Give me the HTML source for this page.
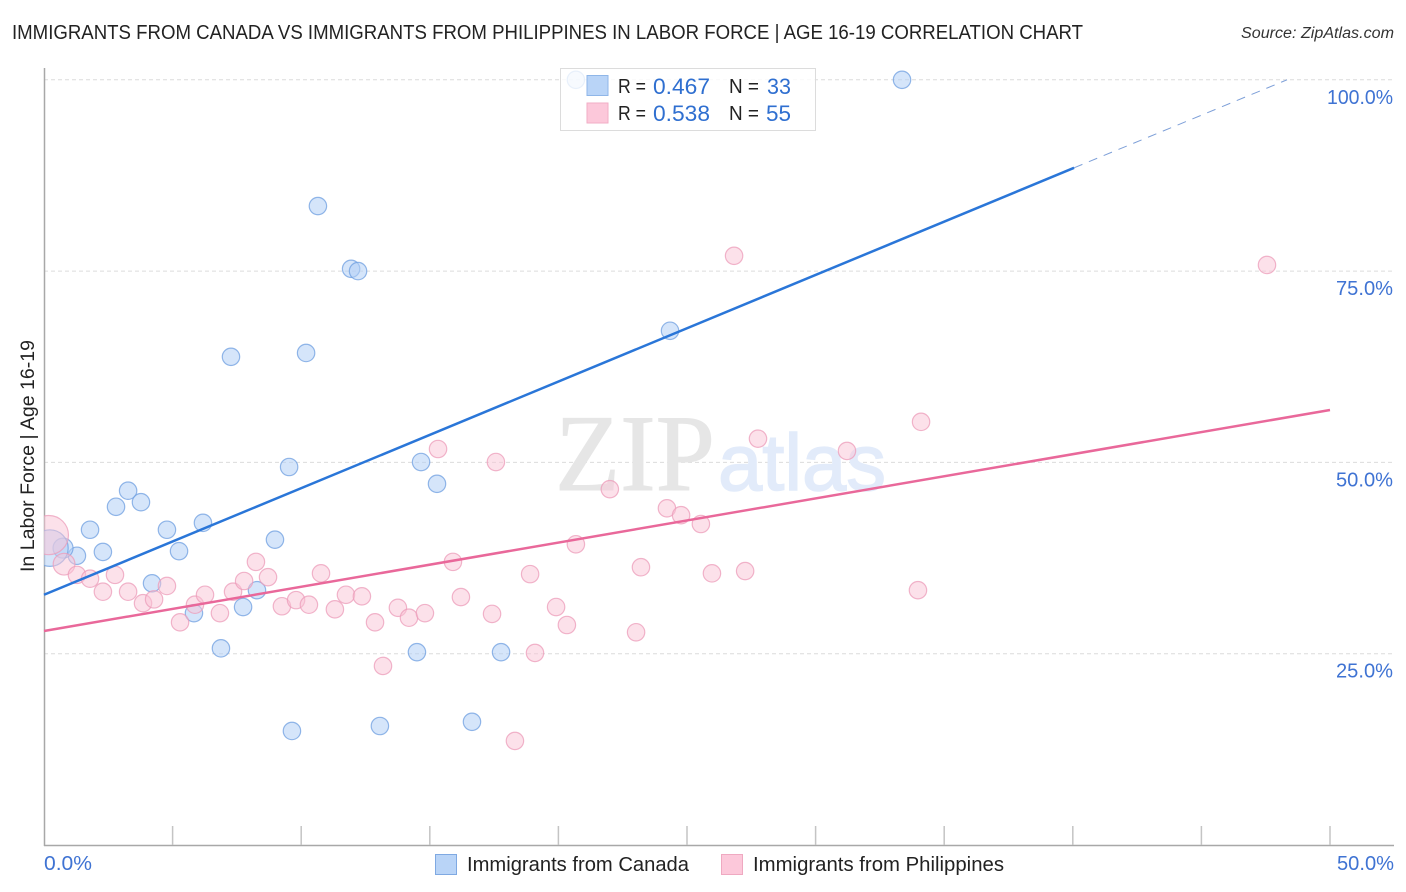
<!DOCTYPE html>
<html lang="en">
<head>
<meta charset="utf-8">
<title>Immigrants from Canada vs Immigrants from Philippines in Labor Force | Age 16-19 Correlation Chart</title>
<style>
html,body{margin:0;padding:0;background:#fff;width:1406px;height:892px;overflow:hidden}
svg{display:block;font-family:"Liberation Sans",sans-serif}
.tick{fill:#3f73d3;font-size:20px}
.leg{fill:#222;font-size:20px}
.val{fill:#2f6fd0;font-size:22px}
</style>
</head>
<body>
<svg id="chart" width="1406" height="892" viewBox="0 0 1406 892" xmlns="http://www.w3.org/2000/svg">
  <defs>
    <clipPath id="plot-clip"><rect x="44" y="60" width="1350" height="786"/></clipPath>
  </defs>
  <text x="12" y="39" font-size="20" fill="#222" textLength="1071" lengthAdjust="spacingAndGlyphs">IMMIGRANTS FROM CANADA VS IMMIGRANTS FROM PHILIPPINES IN LABOR FORCE | AGE 16-19 CORRELATION CHART</text>
  <text x="1241" y="38" font-size="15.5" font-style="italic" fill="#333" textLength="153" lengthAdjust="spacingAndGlyphs">Source: ZipAtlas.com</text>
  <text transform="translate(34,572) rotate(-90)" font-size="19.5" fill="#222" textLength="232" lengthAdjust="spacingAndGlyphs">In Labor Force | Age 16-19</text>

  <g id="grid"></g>
  <g>
    <text x="555" y="490" font-family="'Liberation Serif',serif" font-size="109" fill="#e6e6e6" stroke="#e6e6e6" stroke-width="1" textLength="160" lengthAdjust="spacingAndGlyphs">ZIP</text>
    <text x="718" y="490" font-size="80" fill="#e2ebfa" stroke="#e2ebfa" stroke-width="1.5" textLength="168" lengthAdjust="spacingAndGlyphs">atlas</text>
  </g>
  <g id="axes"></g>
  <g clip-path="url(#plot-clip)">
    <g id="points-canada"></g>
    <g id="points-philippines"></g>
  </g>
  <g id="trends"></g>

  <g>
    <rect x="560.5" y="68.5" width="255" height="62" fill="#fff" fill-opacity="0.8" stroke="#dcdcdc"/>
    <rect x="587" y="75.5" width="21" height="20" fill="#b9d4f7" stroke="#8fb6e8"/>
    <rect x="587" y="103" width="21" height="20" fill="#fcc8da" stroke="#f2aec6"/>
    <text x="618" y="93" font-size="20" fill="#222" textLength="28" lengthAdjust="spacingAndGlyphs">R =</text>
    <text class="val" x="653" y="94" textLength="57" lengthAdjust="spacingAndGlyphs">0.467</text>
    <text x="729" y="93" font-size="20" fill="#222" textLength="30" lengthAdjust="spacingAndGlyphs">N =</text>
    <text class="val" x="767" y="94" textLength="24" lengthAdjust="spacingAndGlyphs">33</text>
    <text x="618" y="120" font-size="20" fill="#222" textLength="28" lengthAdjust="spacingAndGlyphs">R =</text>
    <text class="val" x="653" y="121" textLength="57" lengthAdjust="spacingAndGlyphs">0.538</text>
    <text x="729" y="120" font-size="20" fill="#222" textLength="30" lengthAdjust="spacingAndGlyphs">N =</text>
    <text class="val" x="766" y="121" textLength="25" lengthAdjust="spacingAndGlyphs">55</text>
  </g>

  <g>
    <rect x="435.5" y="854.5" width="21" height="20" fill="#b9d4f7" stroke="#7fa9e2"/>
    <text class="leg" x="467" y="871" textLength="222" lengthAdjust="spacingAndGlyphs">Immigrants from Canada</text>
    <rect x="721.5" y="854.5" width="21" height="20" fill="#fcc8da" stroke="#efa9c1"/>
    <text class="leg" x="753" y="871" textLength="251" lengthAdjust="spacingAndGlyphs">Immigrants from Philippines</text>
  </g>
</svg>
<script>
const yTickValues = [25, 50, 75, 100];
const yTickLabels = ['25.0%', '50.0%', '75.0%', '100.0%'];
const xTickValues = [0, 5, 10, 15, 20, 25, 30, 35, 40, 45, 50];
const xEndValues = [0, 50];
const xEndLabels = ['0.0%', '50.0%'];

const canadaX = [20.68,33.36,10.65,11.94,12.21,10.19,7.27,24.34,9.53,14.66,15.28,3.27,3.77,2.80,1.79,4.78,6.18,8.98,5.25,2.29,1.28,0.74,0.23,4.2,8.28,5.83,7.74,6.88,14.5,17.77,9.64,13.06,16.64];
const canadaY = [100,100,83.5,75.3,75.0,64.3,63.8,67.2,49.4,50.05,47.2,46.3,44.8,44.2,41.2,41.2,42.1,39.9,38.4,38.3,37.8,38.8,38.8,34.2,33.3,30.3,31.1,25.7,25.2,25.2,14.9,15.55,16.1];
const canadaSize = [1,1,1,1,1,1,1,1,1,1,1,1,1,1,1,1,1,1,1,1,1,1.15,2.1,1,1,1,1,1,1,1,1,1,1];

const philippinesX = [26.83,47.55,34.1,31.22,27.76,15.32,17.57,22.0,24.22,24.77,25.54,20.68,15.9,23.21,18.9,25.97,27.26,33.98,0.19,0.78,1.28,1.79,2.76,2.29,3.27,3.85,4.28,4.78,5.29,5.87,6.26,6.84,7.35,7.78,8.24,8.71,9.25,9.8,10.3,10.77,11.31,11.74,12.36,12.87,13.76,14.19,14.81,16.21,17.42,19.91,20.33,23.02,19.09,13.18,18.31];
const philippinesY = [77.0,75.8,55.3,51.5,53.1,51.75,50.05,46.5,44.0,43.1,41.95,39.3,37.0,36.3,35.4,35.5,35.8,33.3,40.5,36.7,35.3,34.8,35.3,33.1,33.1,31.6,32.1,33.85,29.1,31.4,32.7,30.3,33.1,34.5,37.0,35.0,31.2,32.0,31.4,35.5,30.8,32.7,32.5,29.1,31.0,29.7,30.3,32.4,30.2,31.1,28.75,27.8,25.1,23.4,13.6];
const philippinesSize = [1,1,1,1,1,1,1,1,1,1,1,1,1,1,1,1,1,1,2.25,1.25,1,1,1,1,1,1,1,1,1,1,1,1,1,1,1,1,1,1,1,1,1,1,1,1,1,1,1,1,1,1,1,1,1,1,1];

const canadaTrendX = [0, 40.05];
const canadaTrendY = [32.7, 88.5];
const canadaDashX = [40.05, 48.33];
const canadaDashY = [88.5, 100];
const philippinesTrendX = [0, 50];
const philippinesTrendY = [27.97, 56.85];

const NS = 'http://www.w3.org/2000/svg';
function xPos(v) { return 44 + v * 25.72; }
function yPos(v) { return 845 - v * 7.652; }
function make(parent, tag, attrs, text) {
  const el = document.createElementNS(NS, tag);
  for (const k in attrs) el.setAttribute(k, attrs[k]);
  if (text !== undefined) el.textContent = text;
  parent.appendChild(el);
  return el;
}

const grid = document.getElementById('grid');
const axes = document.getElementById('axes');

yTickValues.forEach(function (v, i) {
  const line = make(grid, 'line', {x1: 44, x2: 1394, y1: yPos(v), y2: yPos(v), stroke: '#dcdcdc', 'stroke-width': 1, 'stroke-dasharray': '4 3'});
  
  
  const label = make(axes, 'text', {class: 'tick', x: 1393, y: yPos(v) + 24, 'text-anchor': 'end', textLength: 9 * yTickLabels[i].length + 12, lengthAdjust: 'spacingAndGlyphs'}, yTickLabels[i]);
  
  
});

const yAxis = make(axes, 'line', {x1: 44.5, x2: 44.5, y1: 68, y2: 846, stroke: '#a8a8a8', 'stroke-width': 1.5});


const xAxis = make(axes, 'line', {x1: 44, x2: 1394, y1: 845.5, y2: 845.5, stroke: '#a8a8a8', 'stroke-width': 1.5});



xTickValues.forEach(function (v) {
  if (v === 0) return;
  const t = make(axes, 'line', {x1: xPos(v), x2: xPos(v), y1: 826, y2: 845, stroke: '#c4c4c4', 'stroke-width': 1.5});
  
  
});

xEndValues.forEach(function (v, i) {
  const label = make(axes, 'text', {class: 'tick', x: i === 0 ? xPos(v) : 1394, y: 870, 'text-anchor': i === 0 ? 'start' : 'end', textLength: 9 * xEndLabels[i].length + 12, lengthAdjust: 'spacingAndGlyphs'}, xEndLabels[i]);
  
  
});

const canadaGroup = document.getElementById('points-canada');
canadaX.forEach(function (x, i) {
  const c = make(canadaGroup, 'circle', {cx: xPos(x), cy: yPos(canadaY[i]), r: 8.7 * canadaSize[i], fill: '#b3d0f5', 'fill-opacity': 0.55, stroke: '#6f9fe0', 'stroke-opacity': 0.75, 'stroke-width': 1.2});
  
  
});

const philippinesGroup = document.getElementById('points-philippines');
philippinesX.forEach(function (x, i) {
  const c = make(philippinesGroup, 'circle', {cx: xPos(x), cy: yPos(philippinesY[i]), r: 8.7 * philippinesSize[i], fill: '#f9c3d6', 'fill-opacity': 0.5, stroke: '#ec9cb9', 'stroke-opacity': 0.75, 'stroke-width': 1.2});
  
  
});

const trends = document.getElementById('trends');
const t1 = make(trends, 'line', {x1: xPos(canadaTrendX[0]), y1: yPos(canadaTrendY[0]), x2: xPos(canadaTrendX[1]), y2: yPos(canadaTrendY[1]), stroke: '#2a76d8', 'stroke-width': 2.5});


const t2 = make(trends, 'line', {x1: xPos(canadaDashX[0]), y1: yPos(canadaDashY[0]), x2: xPos(canadaDashX[1]), y2: yPos(canadaDashY[1]), stroke: '#7d9fd8', 'stroke-width': 1, 'stroke-dasharray': '9 7'});


const t3 = make(trends, 'line', {x1: xPos(philippinesTrendX[0]), y1: yPos(philippinesTrendY[0]), x2: xPos(philippinesTrendX[1]), y2: yPos(philippinesTrendY[1]), stroke: '#e9689a', 'stroke-width': 2.5});


</script>
</body>
</html>
